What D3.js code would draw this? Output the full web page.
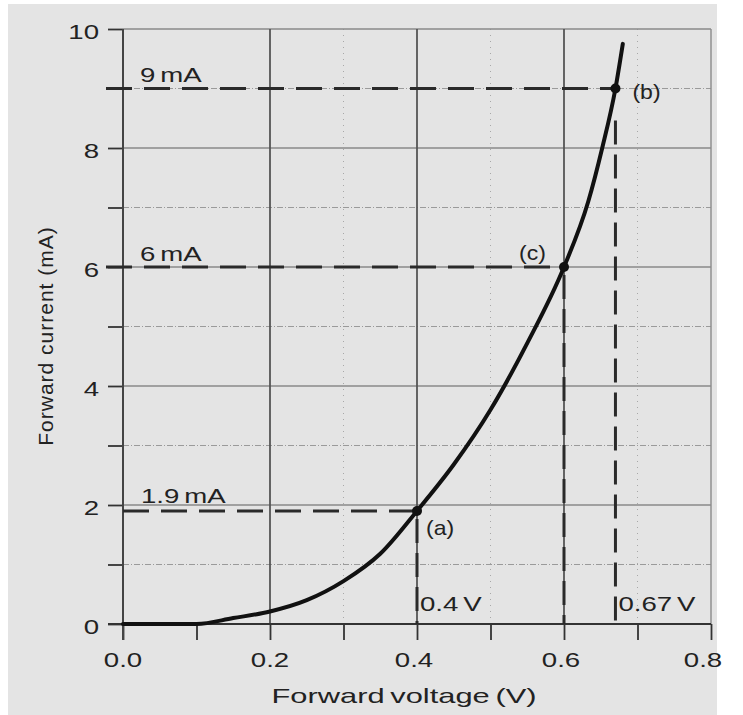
<!DOCTYPE html>
<html><head><meta charset="utf-8">
<script src="https://cdn.jsdelivr.net/npm/d3@7"></script>
<style>
body{margin:0;background:#fff}
svg{display:block}
text{font-family:"Liberation Sans",Arial,Helvetica,sans-serif;fill:#222}
</style>
</head><body>
<svg id="c" width="743" height="715"></svg>
<script>
// ---- data ----
const voltage = [0, 0.1, 0.15, 0.2, 0.25, 0.3, 0.35, 0.4, 0.45, 0.5, 0.55, 0.6, 0.633, 0.652, 0.67, 0.68];
const current = [0, 0, 0.1, 0.21, 0.4, 0.72, 1.18, 1.9, 2.68, 3.6, 4.72, 6, 7.1, 8, 9, 9.75];
const pointNames = ["(a)", "(b)", "(c)"];
const pointV = [0.4, 0.67, 0.6];
const pointI = [1.9, 9, 6];
const currentLabels = ["1.9 mA", "9 mA", "6 mA"];
const voltageLabels = ["0.4 V", "0.67 V", ""];
const xTicks = [0, 0.1, 0.2, 0.3, 0.4, 0.5, 0.6, 0.7, 0.8];
const xTickLabels = ["0.0", "", "0.2", "", "0.4", "", "0.6", "", "0.8"];
const yTicks = [0, 1, 2, 3, 4, 5, 6, 7, 8, 9, 10];
const yTickLabels = ["0", "", "2", "", "4", "", "6", "", "8", "", "10"];
const xMajorGrid = [0.2, 0.4, 0.6];
const xMinorGrid = [0.3, 0.5, 0.7];
const yMajorGrid = [2, 4, 6, 8, 10];
const yMinorGrid = [1, 3, 5, 7, 9];
const xTitle = "Forward voltage (V)";
const yTitle = "Forward current (mA)";

// ---- drawing ----
const svg = d3.select("#c");
const SX = 1.38; // horizontal text stretch seen in the reference
const x = d3.scaleLinear().domain([0, 0.8]).range([123, 711]);
const y = d3.scaleLinear().domain([0, 10]).range([624, 29]);

svg.append("rect").attr("x", 8).attr("y", 4).attr("width", 709).attr("height", 711).attr("fill", "#e4e4e4");

function label(txt, px, py, size, anchor, sx) {
  return svg.append("text")
    .attr("transform", `translate(${px},${py}) scale(${sx || SX},1)`)
    .attr("text-anchor", anchor || "start")
    .attr("font-size", size)
    .attr("word-spacing", -2)
    .text(txt);
}

const grid = svg.append("g");
grid.selectAll(".hm").data(yMinorGrid).join("line")
  .attr("x1", x(0)).attr("x2", x(0.8)).attr("y1", d => y(d)).attr("y2", d => y(d))
  .attr("stroke", "#9a9a9a").attr("stroke-width", 1).attr("stroke-dasharray", "6,2,1,2");
grid.selectAll(".vm").data(xMinorGrid).join("line")
  .attr("x1", d => x(d)).attr("x2", d => x(d)).attr("y1", y(10)).attr("y2", y(0))
  .attr("stroke", "#a8a8a8").attr("stroke-width", 1).attr("stroke-dasharray", "1,5");
grid.selectAll(".hM").data(yMajorGrid).join("line")
  .attr("x1", x(0)).attr("x2", x(0.8)).attr("y1", d => y(d)).attr("y2", d => y(d))
  .attr("stroke", "#8a8a8a").attr("stroke-width", 1.4);
grid.selectAll(".vM").data(xMajorGrid).join("line")
  .attr("x1", d => x(d)).attr("x2", d => x(d)).attr("y1", y(10)).attr("y2", y(0))
  .attr("stroke", "#555").attr("stroke-width", 1.8);
grid.append("line").attr("x1", x(0.8)).attr("x2", x(0.8)).attr("y1", y(10)).attr("y2", y(0))
  .attr("stroke", "#8a8a8a").attr("stroke-width", 1.4);

// axes
const yAxis = d3.axisLeft(y).tickValues(yTicks).tickSize(15).tickFormat("");
const xAxis = d3.axisBottom(x).tickValues(xTicks).tickSize(16).tickFormat("");
const gy = svg.append("g").attr("transform", `translate(${x(0)},0)`).call(yAxis);
const gx = svg.append("g").attr("transform", `translate(0,${y(0)})`).call(xAxis);
[gy, gx].forEach(g => {
  g.select(".domain").remove();
  g.selectAll(".tick line").attr("stroke", "#333").attr("stroke-width", 1.8);
});
svg.append("line").attr("x1", x(0)).attr("x2", x(0)).attr("y1", y(10)).attr("y2", y(0) + 16)
  .attr("stroke", "#444").attr("stroke-width", 2);
svg.append("line").attr("x1", x(0) - 15).attr("x2", x(0.8)).attr("y1", y(0)).attr("y2", y(0))
  .attr("stroke", "#333").attr("stroke-width", 2);

// tick labels
yTicks.forEach((v, i) => { if (yTickLabels[i]) label(yTickLabels[i], 99, y(v) + 10, 20, "end"); });
xTicks.forEach((v, i) => { if (xTickLabels[i]) label(xTickLabels[i], x(v) - (v > 0.3 ? 3 : 0) - (v > 0.7 ? 5 : 0), 667, 20, "middle"); });

// axis titles
label(xTitle, 404, 703, 21, "middle", 1.47);
svg.append("text")
  .attr("transform", `translate(53,336) rotate(-90)`)
  .attr("text-anchor", "middle").attr("font-size", 21).attr("letter-spacing", 1)
  .text(yTitle);

// dashed guide lines
const dash = svg.append("g").attr("stroke", "#2a2a2a").attr("stroke-width", 3).attr("fill", "none");
pointV.forEach((v, i) => {
  const startX = i === 0 ? x(0) : x(0) - 17;
  dash.append("line").attr("x1", startX).attr("x2", x(v)).attr("y1", y(pointI[i])).attr("y2", y(pointI[i]))
    .attr("stroke-dasharray", "26,12");
  dash.append("line").attr("x1", x(v)).attr("x2", x(v)).attr("y1", y(pointI[i]) + (i === 1 ? 32 : 8)).attr("y2", y(0))
    .attr("stroke-dasharray", "24,10");
});

// curve
const line = d3.line().x((d, i) => x(voltage[i])).y((d, i) => y(current[i])).curve(d3.curveMonotoneX);
svg.append("path").datum(current).attr("d", line)
  .attr("fill", "none").attr("stroke", "#111").attr("stroke-width", 4).attr("stroke-linecap", "round");

// points
svg.selectAll(".pt").data(pointV).join("circle")
  .attr("cx", d => x(d)).attr("cy", (d, i) => y(pointI[i])).attr("r", 5).attr("fill", "#111");

// point labels
label(pointNames[0], x(pointV[0]) + 9, y(pointI[0]) + 24, 20, "start", 1.15);
label(pointNames[1], x(pointV[1]) + 17, y(pointI[1]) + 10, 20, "start", 1.15);
label(pointNames[2], x(pointV[2]) - 45, y(pointI[2]) - 7, 20, "start", 1.15);

// current labels
label(currentLabels[0], 141, y(pointI[0]) - 8, 20, "start");
label(currentLabels[1], 140, y(pointI[1]) - 7, 20, "start");
label(currentLabels[2], 140, y(pointI[2]) - 6, 20, "start");

// voltage labels
pointV.forEach((v, i) => { if (voltageLabels[i]) label(voltageLabels[i], x(v) + 3, 611, 20, "start"); });
</script>
</body></html>
